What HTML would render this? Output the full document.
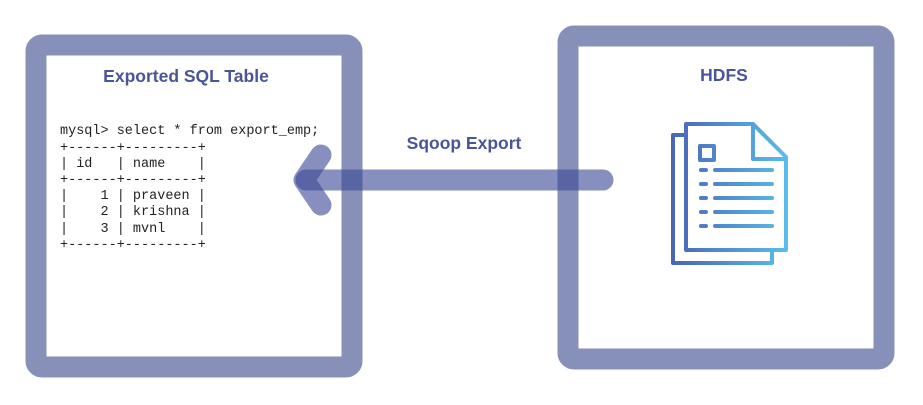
<!DOCTYPE html>
<html><head><meta charset="utf-8"><style>
html,body{margin:0;padding:0;background:#fff;width:923px;height:405px;overflow:hidden}
svg{display:block}
.m{white-space:pre}
</style></head><body>
<svg width="923" height="405" viewBox="0 0 923 405" xmlns="http://www.w3.org/2000/svg">
<defs>
<linearGradient id="g" gradientUnits="userSpaceOnUse" x1="670" y1="0" x2="790" y2="0">
<stop offset="0" stop-color="#4a64b4"/><stop offset="1" stop-color="#58c0ee"/>
</linearGradient>
</defs>
<rect x="36" y="45" width="316" height="322" rx="6" fill="#fff" stroke="#8790b8" stroke-width="21"/>
<rect x="568" y="36" width="316" height="323" rx="6" fill="#fff" stroke="#8790b8" stroke-width="21"/>
<text x="186" y="82" text-anchor="middle" font-family="Liberation Sans, sans-serif" font-weight="bold" font-size="17.5" fill="#4a5598">Exported SQL Table</text>
<text x="724" y="81" text-anchor="middle" font-family="Liberation Sans, sans-serif" font-weight="bold" font-size="17.5" fill="#4a5598">HDFS</text>
<text x="464" y="149" text-anchor="middle" font-family="Liberation Sans, sans-serif" font-weight="bold" font-size="17.5" fill="#4a5598">Sqoop Export</text>
<g font-family="Liberation Mono, monospace" font-size="13.5" fill="#222">
<text class="m" x="60" y="134">mysql&gt; select * from export_emp;</text>
<text class="m" x="60" y="151">+------+---------+</text>
<text class="m" x="60" y="167">| id   | name    |</text>
<text class="m" x="60" y="183">+------+---------+</text>
<text class="m" x="60" y="199">|    1 | praveen |</text>
<text class="m" x="60" y="215">|    2 | krishna |</text>
<text class="m" x="60" y="232">|    3 | mvnl    |</text>
<text class="m" x="60" y="248">+------+---------+</text>
</g>
<g stroke="#3c4a96" stroke-opacity="0.62" stroke-width="21" stroke-linecap="round" fill="none">
<line x1="306" y1="180" x2="603" y2="180"/>
<polyline points="321,155 304,180 321,205" stroke-linejoin="round"/>
</g>
<g fill="none" stroke="url(#g)" stroke-width="4" stroke-linecap="round" stroke-linejoin="round">
<polyline points="686,135 673,135 673,263 772,263 772,250"/>
<path d="M686,124 H753 L786,157 V250 H686 Z"/>
<path d="M753,124 V159 H786"/>
<rect x="700" y="146" width="14" height="14"/>
<line x1="701" y1="170" x2="706" y2="170"/><line x1="715" y1="170" x2="772" y2="170"/>
<line x1="701" y1="184" x2="706" y2="184"/><line x1="715" y1="184" x2="772" y2="184"/>
<line x1="701" y1="198" x2="706" y2="198"/><line x1="715" y1="198" x2="772" y2="198"/>
<line x1="701" y1="212" x2="706" y2="212"/><line x1="715" y1="212" x2="772" y2="212"/>
<line x1="701" y1="226" x2="706" y2="226"/><line x1="715" y1="226" x2="772" y2="226"/>
</g>
</svg>
</body></html>
